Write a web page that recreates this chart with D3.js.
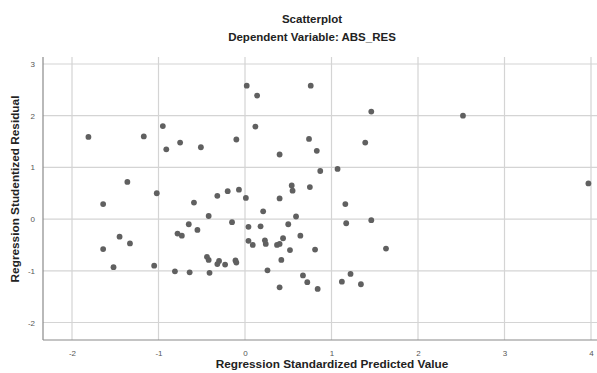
<!DOCTYPE html>
<html>
<head>
<meta charset="utf-8">
<script src="https://cdn.jsdelivr.net/npm/d3@7"></script>
<style>
  html, body { margin: 0; padding: 0; background: #fff; }
  svg { display: block; font-family: "Liberation Sans", Arial, sans-serif; }
</style>
</head>
<body>
<svg id="chart" width="597" height="373"></svg>
<script>
const title = "Scatterplot";
const subtitle = "Dependent Variable: ABS_RES";
const xLabel = "Regression Standardized Predicted Value";
const yLabel = "Regression Studentized Residual";
const xTicks = [-2, -1, 0, 1, 2, 3, 4];
const yTicks = [-2, -1, 0, 1, 2, 3];

// Standardized predicted values
const predicted = [
  -1.81, -1.17, -0.95, -0.91, -0.75, -0.51, -0.10, -1.36, -1.02, -0.32,
  -0.20, -0.07, 0.02, 0.14, 0.76, 1.46, 0.12, 0.74, 1.39, 0.83,
  0.40, 0.87, 1.07, 0.54, 0.55, 0.75, 0.01, 0.40, -1.64, -0.59,
  -0.42, -0.15, -0.65, -0.55, -0.78, -0.73, -1.45, -1.33, -1.64, -0.44,
  -0.42, -0.30, -0.32, -0.23, -0.11, -0.10, -1.52, -1.05, -0.81, -0.64,
  -0.41, 1.16, 0.21, 0.59, 0.04, 0.18, 0.50, 1.17, 1.46, 0.64,
  0.44, 0.04, 0.09, 0.23, 0.24, 0.37, 0.40, 0.52, 0.81, 1.63,
  0.42, 0.26, 0.67, 0.72, 0.84, 0.40, 1.22, 1.12, 1.34, 2.52,
  3.97
];
// Studentized residuals
const residual = [
  1.59, 1.60, 1.80, 1.35, 1.48, 1.39, 1.54, 0.72, 0.50, 0.45,
  0.54, 0.57, 2.58, 2.39, 2.58, 2.08, 1.79, 1.55, 1.48, 1.32,
  1.25, 0.93, 0.97, 0.65, 0.55, 0.62, 0.41, 0.40, 0.29, 0.32,
  0.06, -0.06, -0.10, -0.21, -0.28, -0.32, -0.34, -0.47, -0.58, -0.73,
  -0.79, -0.81, -0.87, -0.88, -0.80, -0.84, -0.93, -0.90, -1.01, -1.03,
  -1.04, 0.29, 0.15, 0.05, -0.15, -0.14, -0.10, -0.08, -0.02, -0.32,
  -0.37, -0.42, -0.50, -0.41, -0.48, -0.50, -0.48, -0.60, -0.59, -0.57,
  -0.79, -0.99, -1.09, -1.22, -1.35, -1.32, -1.06, -1.21, -1.26, 2.00,
  0.69
];

const svg = d3.select("#chart");
const plotLeft = 43, plotRight = 597, plotTop = 57, plotBottom = 340;

const x = d3.scaleLinear().domain([-2, 4]).range([72, 591]);
const y = d3.scaleLinear().domain([-2, 3]).range([322.5, 64]);
const fmt = d => String(d);

// Gridlines
const grid = svg.append("g");
grid.selectAll("line.v").data(xTicks).join("line")
  .attr("x1", d => x(d)).attr("x2", d => x(d))
  .attr("y1", plotTop).attr("y2", plotBottom)
  .attr("stroke", "#d4d4d4").attr("stroke-width", 1.2);
grid.selectAll("line.h").data(yTicks).join("line")
  .attr("x1", plotLeft).attr("x2", plotRight)
  .attr("y1", d => y(d)).attr("y2", d => y(d))
  .attr("stroke", "#d4d4d4").attr("stroke-width", 1.2);

// Axes
const xAxis = d3.axisBottom(x).tickValues(xTicks).tickFormat(fmt).tickSize(0).tickPadding(10);
const gx = svg.append("g").attr("transform", `translate(0,${plotBottom})`).call(xAxis);
gx.select(".domain").remove();
gx.selectAll("text").attr("font-size", 8).attr("fill", "#555")
  .attr("font-family", "Liberation Sans, Arial, sans-serif");

const yAxis = d3.axisLeft(y).tickValues(yTicks).tickFormat(fmt).tickSize(0).tickPadding(8);
const gy = svg.append("g").attr("transform", `translate(${plotLeft},0)`).call(yAxis);
gy.select(".domain").remove();
gy.selectAll("text").attr("font-size", 8).attr("fill", "#555")
  .attr("font-family", "Liberation Sans, Arial, sans-serif");

svg.append("line").attr("x1", plotLeft).attr("x2", plotLeft)
  .attr("y1", plotTop).attr("y2", plotBottom)
  .attr("stroke", "#8a8a8a").attr("stroke-width", 1.2);
svg.append("line").attr("x1", plotLeft).attr("x2", plotRight)
  .attr("y1", plotBottom).attr("y2", plotBottom)
  .attr("stroke", "#8a8a8a").attr("stroke-width", 1.2);

// Points
svg.append("g").selectAll("circle").data(predicted.map((p, i) => [p, residual[i]])).join("circle")
  .attr("cx", d => x(d[0])).attr("cy", d => y(d[1]))
  .attr("r", 2.9).attr("fill", "#606060");

// Titles
svg.append("text").attr("x", 312).attr("y", 23).attr("text-anchor", "middle")
  .attr("font-size", 11.5).attr("font-weight", "bold").attr("fill", "#222").text(title);
svg.append("text").attr("x", 312).attr("y", 41).attr("text-anchor", "middle")
  .attr("font-size", 11.5).attr("font-weight", "bold").attr("fill", "#222").text(subtitle);
svg.append("text").attr("x", 332).attr("y", 368).attr("text-anchor", "middle")
  .attr("font-size", 11.8).attr("font-weight", "bold").attr("fill", "#222").text(xLabel);
svg.append("text").attr("transform", "translate(19,189) rotate(-90)").attr("text-anchor", "middle")
  .attr("font-size", 11.8).attr("font-weight", "bold").attr("fill", "#222").text(yLabel);
</script>
</body>
</html>
